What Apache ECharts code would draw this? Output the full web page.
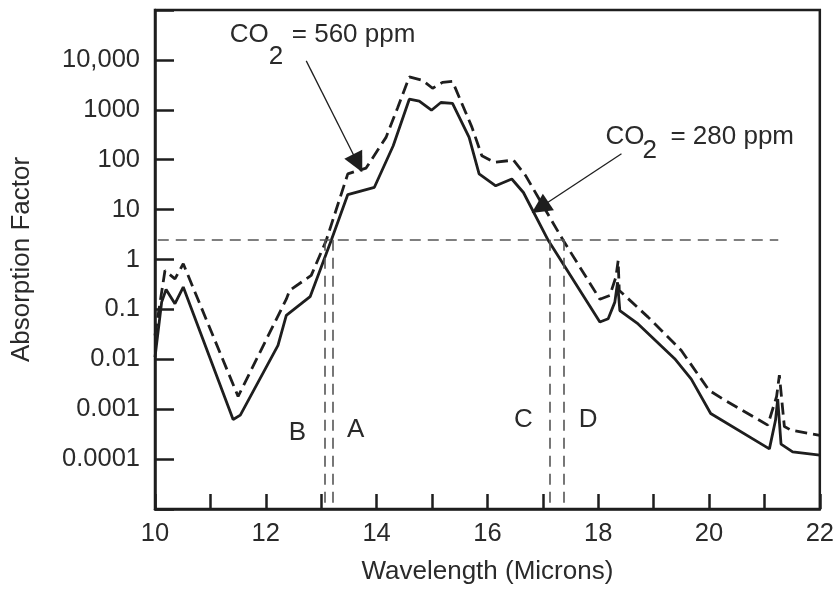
<!DOCTYPE html>
<html>
<head>
<meta charset="utf-8">
<script src="https://cdn.jsdelivr.net/npm/echarts@6/dist/echarts.min.js"></script>
<style>
html,body{margin:0;padding:0;background:#fff;}
#chart{width:837px;height:590px;}
</style>
</head>
<body>
<div id="chart"></div>
<script>
// CO2 = 280 ppm (solid)
const wl280 = [10.0, 10.12, 10.2, 10.36, 10.51, 11.41, 11.54, 12.22, 12.37, 12.8, 13.18, 13.48, 13.96, 14.3, 14.59, 14.77, 14.99, 15.16, 15.37, 15.67, 15.85, 16.15, 16.44, 16.65, 17.1, 18.03, 18.18, 18.3, 18.35, 18.39, 18.72, 19.38, 19.68, 20.03, 21.09, 21.2, 21.24, 21.3, 21.51, 22.0];
const ab280 = [0.011, 0.14, 0.25, 0.13, 0.28, 0.00062, 0.00076, 0.019, 0.076, 0.18, 2.4, 20, 28, 190, 1630, 1500, 980, 1400, 1340, 280, 52, 30, 41, 22, 2.4, 0.056, 0.065, 0.14, 0.35, 0.095, 0.051, 0.0103, 0.004, 0.00082, 0.00016, 0.0006, 0.0016, 0.0002, 0.00014, 0.00012];
// CO2 = 560 ppm (dashed)
const wl560 = [10.0, 10.18, 10.36, 10.51, 11.5, 12.37, 12.43, 12.82, 13.09, 13.48, 13.81, 14.17, 14.38, 14.59, 14.83, 15.01, 15.19, 15.37, 15.72, 15.9, 16.12, 16.47, 16.69, 17.16, 17.37, 18.03, 18.21, 18.32, 18.36, 18.38, 18.9, 19.5, 20.0, 20.25, 21.06, 21.22, 21.27, 21.36, 21.48, 22.0];
const ab560 = [0.03, 0.6, 0.41, 0.82, 0.0018, 0.16, 0.24, 0.48, 2.4, 52, 68, 280, 1100, 4570, 3900, 2700, 3550, 3700, 450, 120, 89, 98, 48, 6, 2.4, 0.16, 0.19, 0.45, 0.95, 0.24, 0.07, 0.015, 0.0024, 0.0016, 0.00048, 0.0018, 0.0048, 0.00045, 0.00038, 0.0003];

const xTicks = [10, 12, 14, 16, 18, 20, 22];
const yTickLabels = {'-4':'0.0001','-3':'0.001','-2':'0.01','-1':'0.1','0':'1','1':'10','2':'100','3':'1000','4':'10,000'};

const thresholdLevel = 2.5;
const thresholdSpan = [10.05, 21.25];
const crossings = [13.06, 13.21, 17.12, 17.37];
const crossLetters = [
  {t:'B', x:12.57, y:Math.pow(10,-3.48)},
  {t:'A', x:13.62, y:Math.pow(10,-3.42)},
  {t:'C', x:16.65, y:Math.pow(10,-3.22)},
  {t:'D', x:17.82, y:Math.pow(10,-3.22)}
];
const arrows = [
  {from:[12.73, 9550], to:[13.66, 85]},
  {from:[18.42, 132], to:[16.95, 11]}
];
const labels = [
  {x:11.35, y:Math.pow(10,4.5), sub:[39,22], rest:[62,0], text:'= 560 ppm'},
  {x:18.13, y:Math.pow(10,2.46), sub:[37,14], rest:[65,0], text:'= 280 ppm'}
];

const FONT = '"Liberation Sans", Arial, Helvetica, sans-serif';
const INK = '#1e1e1e';
const TXT = '#2a2a2a';

const chart = echarts.init(document.getElementById('chart'), null, {renderer:'canvas'});

const refLines = [];
refLines.push([{coord:[thresholdSpan[0], thresholdLevel]}, {coord:[thresholdSpan[1], thresholdLevel]}]);
crossings.forEach(c => refLines.push([{coord:[c, thresholdLevel]}, {coord:[c, 0.00001]}]));

const option = {
  animation: false,
  backgroundColor: '#fff',
  grid: {left:155, right:13, top:10, bottom:81, show:true, borderColor:INK, borderWidth:2.5, backgroundColor:'transparent'},
  xAxis: {
    type:'value', min:10, max:22, interval:1,
    name:'Wavelength (Microns)', nameLocation:'middle', nameGap:50,
    nameTextStyle:{fontFamily:FONT, fontSize:26, color:TXT},
    axisLine:{show:true, lineStyle:{color:INK, width:2.5}},
    axisTick:{show:true, inside:true, length:15, lineStyle:{color:INK, width:2.5}},
    axisLabel:{margin:12, fontFamily:FONT, fontSize:25.5, color:TXT,
      formatter: v => xTicks.indexOf(Math.round(v)) >= 0 && Math.abs(v-Math.round(v))<1e-6 ? String(Math.round(v)) : ''},
    splitLine:{show:false}
  },
  yAxis: {
    type:'log', logBase:10, min:0.00001, max:100000, interval:1,
    name:'Absorption Factor', nameLocation:'middle', nameGap:120,
    nameTextStyle:{fontFamily:FONT, fontSize:26, color:TXT},
    axisLine:{show:true, lineStyle:{color:INK, width:2.5}},
    axisTick:{show:true, inside:true, length:19, lineStyle:{color:INK, width:2.5}},
    axisLabel:{margin:15, fontFamily:FONT, fontSize:25.5, color:TXT,
      formatter: v => { const e = Math.round(Math.log10(v)); return yTickLabels[String(e)] || ''; }},
    splitLine:{show:false}
  },
  series: [
    {
      name:'CO2 = 280 ppm', type:'line', showSymbol:false, symbol:'none',
      data: wl280.map((x,i)=>[x, ab280[i]]),
      lineStyle:{color:INK, width:2.8, type:'solid'}, z:3
    },
    {
      name:'CO2 = 560 ppm', type:'line', showSymbol:false, symbol:'none',
      data: wl560.map((x,i)=>[x, ab560[i]]),
      lineStyle:{color:INK, width:2.8, type:[12,6]}, z:3
    },
    {
      name:'ref', type:'line', data:[], silent:true,
      markLine:{silent:true, symbol:['none','none'], label:{show:false},
        lineStyle:{color:'#555', width:1.6, type:[11,7]}, data: refLines}
    },
    {
      name:'arrows', type:'line', data:[], silent:true,
      markLine:{silent:true, symbol:['none','triangle'], symbolSize:20, label:{show:false},
        lineStyle:{color:INK, width:1.3, type:'solid'}, itemStyle:{color:INK},
        data: arrows.map(a => [{coord:a.from}, {coord:a.to}])}
    }
  ]
};
chart.setOption(option);

const g = [];
const f = '26px ' + FONT;
crossLetters.forEach(l => {
  const p = chart.convertToPixel({gridIndex:0}, [l.x, l.y]);
  g.push({type:'text', x:p[0], y:p[1], style:{text:l.t, font:f, fill:TXT, align:'center', verticalAlign:'middle'}});
});
labels.forEach(l => {
  const p = chart.convertToPixel({gridIndex:0}, [l.x, l.y]);
  g.push({type:'text', x:p[0], y:p[1], style:{text:'CO', font:f, fill:TXT, align:'left', verticalAlign:'middle'}});
  g.push({type:'text', x:p[0]+l.sub[0], y:p[1]+l.sub[1], style:{text:'2', font:f, fill:TXT, align:'left', verticalAlign:'middle'}});
  g.push({type:'text', x:p[0]+l.rest[0], y:p[1]+l.rest[1], style:{text:l.text, font:f, fill:TXT, align:'left', verticalAlign:'middle'}});
});
chart.setOption({graphic: g});
</script>
</body>
</html>
